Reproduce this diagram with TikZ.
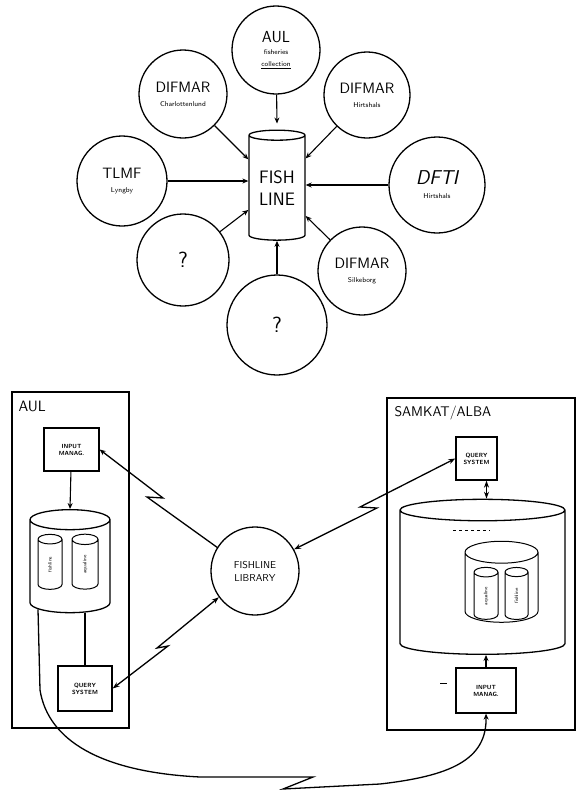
\documentclass[tikz,border=0pt]{standalone}
\usetikzlibrary{shapes.geometric,arrows.meta}
\tikzset{
  src/.style={draw,circle,line width=1.3pt,inner sep=0pt,align=center,font=\sffamily},
  db/.style={draw,cylinder,shape border rotate=90,line width=1.3pt,inner sep=0pt,align=center},
  box/.style={draw,line width=1.3pt,inner sep=1pt,align=center,font=\sffamily\bfseries\fontsize{6}{7}\selectfont},
  feed/.style={-{Stealth[length=6pt,width=5pt]},line width=1.1pt},
  link/.style={{Stealth[length=7pt,width=5pt]}-{Stealth[length=7pt,width=5pt]},line width=1.3pt},
  tiny/.style={font=\sffamily\fontsize{5}{6}\selectfont,rotate=90},
}
\newcommand{\srcname}[1]{{\fontsize{15}{17}\selectfont #1}}
\newcommand{\srcsub}[1]{{\fontsize{7}{8}\selectfont #1}}
\newcommand{\dbspan}[1]{\hspace*{#1}}
\begin{document}
\begin{tikzpicture}[x=1pt,y=-1pt]
  \useasboundingbox (0,0) rectangle (579,790);

  % sources round the central file
  \node[db,aspect=0.28,minimum width=56,minimum height=110,font=\sffamily\fontsize{18}{22}\selectfont] (fish) at (277,188) {FISH\\LINE};
  \node[src,minimum size=88] (aulsrc) at (276,50) {\fontsize{16}{18}\selectfont AUL\\\srcsub{fisheries}\\\srcsub{\underline{collection}}};
  \node[src,minimum size=88] (difch) at (183,94) {\srcname{DIFMAR}\\[2pt]\srcsub{Charlottenlund}};
  \node[src,minimum size=86] (difhi) at (367,95) {\srcname{DIFMAR}\\[2pt]\srcsub{Hirtshals}};
  \node[src,minimum size=90] (tlmf) at (122,181) {\srcname{TLMF}\\[2pt]\srcsub{Lyngby}};
  \node[src,minimum size=96] (dfti) at (437,185) {{\fontsize{20}{22}\selectfont\itshape DFTI}\\[2pt]\srcsub{Hirtshals}};
  \node[src,minimum size=92] (unkl) at (183,260) {\fontsize{22}{24}\selectfont ?};
  \node[src,minimum size=88] (difsi) at (362,271) {\srcname{DIFMAR}\\[2pt]\srcsub{Silkeborg}};
  \node[src,minimum size=100] (unkb) at (277,325) {\fontsize{22}{24}\selectfont ?};

  \draw[feed] (aulsrc) -- ([yshift=6pt]fish.north);
  \draw[feed] (difch) -- (fish);
  \draw[feed] (difhi) -- (fish);
  \draw[feed] (tlmf) -- (tlmf -| fish.west);
  \draw[feed] (dfti) -- (dfti -| fish.east);
  \draw[feed] (unkl) -- (fish);
  \draw[feed] (difsi) -- (fish);
  \draw[feed] (unkb) -- (fish.south);

  % AUL side
  \draw[line width=1.3pt] (12,392) rectangle (129,728);
  \node[anchor=north west,font=\sffamily\fontsize{15}{17}\selectfont] (aullbl) at (15,398) {AUL};
  \node[box,minimum width=55,minimum height=43] (aulin) at (71.5,449.5) {INPUT\\MANAG.};
  \node[db,aspect=0.25,minimum width=80,minimum height=103] (auldb) at (70,566.5) {\dbspan{80pt}};
  \node[db,aspect=0.4,minimum width=24,minimum height=55,line width=1pt] (aulc1) at (50,564.5) {\dbspan{24pt}};
  \node[db,aspect=0.4,minimum width=26,minimum height=55,line width=1pt] (aulc2) at (85,564.5) {\dbspan{26pt}};
  \node[tiny] at (aulc1) {fishline};
  \node[tiny] at (aulc2) {aqualine};
  \node[box,minimum width=54,minimum height=45] (aulqs) at (85,688.5) {QUERY\\SYSTEM};
  \draw[feed] (aulin) -- (auldb.north);
  \draw[line width=1.1pt] (aulqs.north) -- (aulqs.north |- auldb.south);

  % central library
  \node[src,minimum size=88,font=\sffamily\fontsize{10}{13}\selectfont] (libr) at (255,571) {FISHLINE\\LIBRARY};

  % SAMKAT/ALBA side
  \draw[line width=1.3pt] (387,398) rectangle (575,730);
  \node[anchor=north west,font=\sffamily\fontsize{14}{16}\selectfont] (samlbl) at (391,402) {SAMKAT/ALBA};
  \node[box,minimum width=41,minimum height=43] (samqs) at (476.5,458.5) {QUERY\\SYSTEM};
  \node[db,aspect=0.13,minimum width=165,minimum height=155] (samdb) at (482.5,582.5) {\dbspan{165pt}};
  \draw[dashed,line width=0.8pt] (453,530) -- (490,530);
  \node[db,aspect=0.3,minimum width=73,minimum height=81,line width=1pt] (samcat) at (501.5,587.5) {\dbspan{73pt}};
  \node[db,aspect=0.4,minimum width=24,minimum height=52,line width=1pt] (samc1) at (486,596) {\dbspan{24pt}};
  \node[db,aspect=0.4,minimum width=23,minimum height=52,line width=1pt] (samc2) at (516.5,596) {\dbspan{23pt}};
  \node[tiny] at (samc1) {aqualine};
  \node[tiny] at (samc2) {fishline};
  \node[box,minimum width=60,minimum height=45] (samin) at (486,690.5) {INPUT\\MANAG.};
  \draw[line width=1pt] (440,683) -- (447,683);
  \draw[link] ([xshift=10pt]samqs.south) -- ([xshift=10pt]samqs.south |- samdb.north);
  \draw[feed] (samin.north) -- (samin.north |- samdb.south);

  % links with the library
  \draw[feed,line width=1.3pt] (libr.148) -- (147,497) -- (163,498) -- (aulin.east);
  \draw[link] (libr.29) -- (377,508) -- (360,507) -- (samqs.west);
  \draw[link] (libr.216) -- (157,648) -- (168,646) -- (aulqs.east);

  % transfer from AUL to SAMKAT
  \draw[feed,line width=1.3pt] ([xshift=-32pt,yshift=4pt]auldb.south) -- (40,690)
    .. controls (48,740) and (100,772) .. (200,777) -- (313,777) -- (283,789)
    -- (380,784) .. controls (450,776) and (487,760) .. (samin.south);
\end{tikzpicture}
\end{document}
